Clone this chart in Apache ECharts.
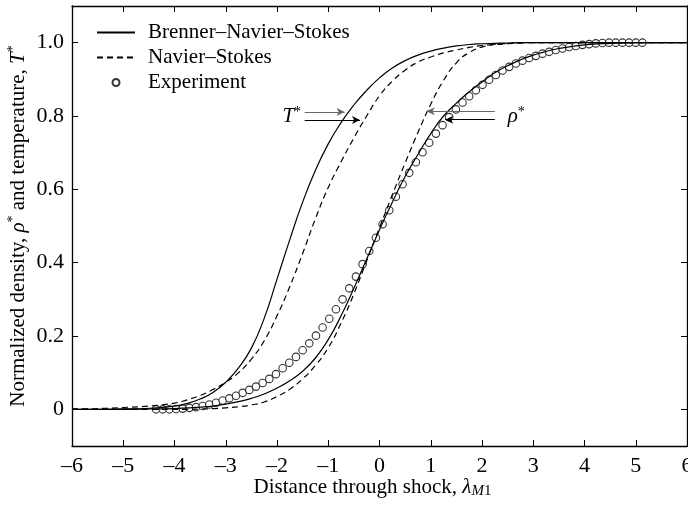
<!DOCTYPE html>
<html>
<head>
<meta charset="utf-8">
<script src="https://cdn.jsdelivr.net/npm/echarts@6/dist/echarts.min.js"></script>
<style>
  html, body { margin: 0; padding: 0; background: #fff; }
  #chart { width: 688px; height: 506px; }
</style>
</head>
<body>
<div id="chart"></div>
<script>
// Shock-structure profiles: normalized density and temperature across the shock.
const FONT = 'Liberation Serif';

// Abscissa of the computed profiles (distance through shock, in mean free paths)
const profileX = [-6, -5.5, -5, -4.5, -4, -3.75, -3.5, -3.25, -3, -2.75, -2.5, -2.25, -2, -1.75, -1.5, -1.25,
  -1, -0.75, -0.5, -0.25, 0, 0.25, 0.5, 0.75, 1, 1.25, 1.5, 1.75, 2, 2.25, 2.5, 2.75, 3, 3.25, 3.5, 4, 4.5, 5, 5.5, 6];

// Brenner–Navier–Stokes temperature T*
const bnsTemperature = [0, 0, 0.001, 0.003, 0.009, 0.016, 0.028, 0.046, 0.074, 0.113, 0.167, 0.248, 0.355, 0.463, 0.565, 0.652,
  0.724, 0.782, 0.83, 0.87, 0.904, 0.931, 0.951, 0.966, 0.977, 0.985, 0.991, 0.995, 0.997, 0.998, 0.999, 1, 1, 1, 1, 1, 1, 1, 1, 1];
// Brenner–Navier–Stokes density rho*
const bnsDensity = [0, 0, 0, 0.001, 0.002, 0.004, 0.006, 0.009, 0.014, 0.021, 0.03, 0.042, 0.058, 0.078, 0.104, 0.14,
  0.19, 0.255, 0.33, 0.41, 0.49, 0.565, 0.635, 0.695, 0.752, 0.8, 0.835, 0.866, 0.893, 0.918, 0.937, 0.953, 0.966, 0.976, 0.984, 0.994, 0.998, 1, 1, 1];
// Navier–Stokes temperature T*
const nsTemperature = [0.001, 0.002, 0.005, 0.009, 0.017, 0.026, 0.038, 0.054, 0.074, 0.1, 0.137, 0.187, 0.255, 0.335, 0.425, 0.52,
  0.605, 0.675, 0.74, 0.8, 0.855, 0.895, 0.925, 0.947, 0.961, 0.972, 0.98, 0.987, 0.992, 0.995, 0.997, 0.999, 1, 1, 1, 1, 1, 1, 1, 1];
// Navier–Stokes density rho*
const nsDensity = [0, 0, 0, 0, 0, 0, 0.001, 0.002, 0.004, 0.007, 0.012, 0.02, 0.035, 0.055, 0.083, 0.12,
  0.168, 0.235, 0.315, 0.405, 0.495, 0.585, 0.672, 0.755, 0.832, 0.897, 0.945, 0.973, 0.988, 0.995, 0.998, 1, 1, 1, 1, 1, 1, 1, 1, 1];

// Measured density profile
const expX = [-4.36, -4.23, -4.10, -3.97, -3.84, -3.71, -3.58, -3.45, -3.32, -3.19, -3.06, -2.93, -2.80, -2.67, -2.54, -2.41,
  -2.28, -2.15, -2.02, -1.89, -1.76, -1.63, -1.50, -1.37, -1.24, -1.11, -0.98, -0.85, -0.72, -0.59, -0.46, -0.33,
  -0.20, -0.07, 0.06, 0.19, 0.32, 0.45, 0.58, 0.71, 0.84, 0.97, 1.10, 1.23, 1.36, 1.49, 1.62, 1.75,
  1.88, 2.01, 2.14, 2.27, 2.40, 2.53, 2.66, 2.79, 2.92, 3.05, 3.18, 3.31, 3.44, 3.57, 3.70, 3.83,
  3.96, 4.09, 4.22, 4.35, 4.48, 4.61, 4.74, 4.87, 5.00, 5.13];
const expDensity = [0, 0, 0, 0.001, 0.002, 0.004, 0.006, 0.009, 0.013, 0.018, 0.024, 0.030, 0.037, 0.045, 0.053, 0.062,
  0.072, 0.083, 0.096, 0.112, 0.127, 0.143, 0.161, 0.180, 0.201, 0.223, 0.247, 0.273, 0.300, 0.330, 0.362, 0.396,
  0.432, 0.468, 0.505, 0.543, 0.580, 0.614, 0.645, 0.674, 0.701, 0.727, 0.752, 0.775, 0.797, 0.818, 0.837, 0.854,
  0.870, 0.885, 0.899, 0.912, 0.924, 0.934, 0.943, 0.951, 0.958, 0.964, 0.970, 0.975, 0.980, 0.984, 0.988, 0.991,
  0.994, 0.996, 0.998, 0.999, 1, 1, 1, 1, 1, 1];

// Axis ticks
const xTicks = [-6, -5, -4, -3, -2, -1, 0, 1, 2, 3, 4, 5, 6];
const yTicks = [0, 0.2, 0.4, 0.6, 0.8, 1.0];

// Arrow annotations: [x start, x tip, y]
const tArrows = [[-1.46, -0.68, 0.811], [-1.46, -0.38, 0.789]];
const rhoArrows = [[2.25, 0.92, 0.813], [2.25, 1.28, 0.79]];
const tLabelAt = [-1.53, 0.8];
const rhoLabelAt = [2.5, 0.8];

const pair = (xs, ys) => xs.map((x, i) => [x, ys[i]]);

const BNS = 'Brenner–Navier–Stokes';
const NS = 'Navier–Stokes';
const EXP = 'Experiment';

const textBase = { fontFamily: FONT, fontSize: 21, color: '#000' };
const tickText = { fontFamily: FONT, fontSize: 22, color: '#000' };
const supRich = {
  i: { fontFamily: FONT, fontSize: 21, fontStyle: 'italic', color: '#000' },
  sup: { fontFamily: FONT, fontSize: 14, color: '#000', verticalAlign: 'top', lineHeight: 12 },
  subi: { fontFamily: FONT, fontSize: 15, fontStyle: 'italic', color: '#000', verticalAlign: 'bottom', lineHeight: 12 },
  sub: { fontFamily: FONT, fontSize: 15, color: '#000', verticalAlign: 'bottom', lineHeight: 12 }
};

const arrowLine = (a, color) => [
  { coord: [a[0], a[2]], lineStyle: { color: color, width: 1, type: 'solid' } },
  { coord: [a[1], a[2]] }
];

const axisLineStyle = { show: true, onZero: false, lineStyle: { color: '#000', width: 1.3 } };
const tickStyle = { show: true, inside: true, length: 6, lineStyle: { color: '#000', width: 1 } };

const curve = (name, ys, dashed) => ({
  name: name, type: 'line', data: pair(profileX, ys),
  smooth: 0.5, symbol: 'none', silent: true,
  lineStyle: { color: '#000', width: 1.2, type: dashed ? [6, 4] : 'solid' },
  itemStyle: { color: '#000' }
});

const bnsT = curve(BNS, bnsTemperature, false);
bnsT.markLine = {
  silent: true, symbol: ['none', 'arrow'], symbolSize: [6, 8], label: { show: false },
  lineStyle: { color: '#000', width: 1, type: 'solid' },
  data: [arrowLine(tArrows[0], '#666'), arrowLine(tArrows[1], '#000'),
         arrowLine(rhoArrows[0], '#666'), arrowLine(rhoArrows[1], '#000')]
};
bnsT.markPoint = {
  silent: true, symbol: 'circle', symbolSize: 0,
  data: [
    { coord: tLabelAt, label: { show: true, position: 'left', distance: 0, formatter: '{i|T}{sup|*}', rich: supRich, fontFamily: FONT, fontSize: 21, color: '#000' } },
    { coord: rhoLabelAt, label: { show: true, position: 'right', distance: 0, formatter: '{i|ρ}{sup|*}', rich: supRich, fontFamily: FONT, fontSize: 21, color: '#000' } }
  ]
};

// legend entries for the curves show the line only
const lineOnlyIcon = { color: 'rgba(0,0,0,0)', borderColor: 'rgba(0,0,0,0)', borderWidth: 0 };

const option = {
  animation: false,
  backgroundColor: '#fff',
  grid: { left: 72, right: 1, top: 6, bottom: 60, containLabel: false, outerBoundsMode: 'none' },
  legend: {
    orient: 'vertical',
    left: 96,
    top: 20,
    padding: 0,
    itemGap: 0,
    itemWidth: 38,
    itemHeight: 7,
    selectedMode: false,
    textStyle: Object.assign({}, textBase, { lineHeight: 25, padding: [0, 0, 0, 8] }),
    data: [
      { name: BNS, itemStyle: lineOnlyIcon },
      { name: NS, itemStyle: lineOnlyIcon },
      { name: EXP, icon: 'circle' }
    ]
  },
  xAxis: [
    {
      type: 'value', min: -6, max: 6, interval: 1, position: 'bottom',
      axisLine: axisLineStyle, axisTick: tickStyle, splitLine: { show: false },
      axisLabel: Object.assign({}, tickText, {
        margin: 9,
        formatter: v => (v < 0 ? '–' + Math.abs(v) : String(v))
      }),
      name: 'Distance through shock, {i|λ}{subi|M}{sub|1}',
      nameLocation: 'middle',
      nameGap: 29,
      nameMoveOverlap: false,
      nameTextStyle: Object.assign({}, textBase, { lineHeight: 24, rich: supRich, padding: [0, 14, 0, 0] })
    },
    {
      type: 'value', min: -6, max: 6, interval: 1, position: 'top',
      axisLine: axisLineStyle, axisTick: tickStyle, splitLine: { show: false },
      axisLabel: { show: false }
    }
  ],
  yAxis: [
    {
      type: 'value', min: -0.1, max: 1.1, interval: 0.1, position: 'left',
      axisLine: axisLineStyle,
      axisTick: Object.assign({}, tickStyle, { customValues: yTicks }),
      splitLine: { show: false },
      axisLabel: Object.assign({}, tickText, {
        margin: 8,
        customValues: yTicks,
        formatter: v => (Math.abs(v) < 1e-9 ? '0' : v.toFixed(1))
      }),
      name: 'Normalized density, {i|ρ}{sup|*} and temperature, {i|T}{sup|*}',
      nameLocation: 'middle',
      nameGap: 42,
      nameMoveOverlap: false,
      nameTextStyle: Object.assign({}, textBase, { lineHeight: 24, rich: supRich })
    },
    {
      type: 'value', min: -0.1, max: 1.1, interval: 0.1, position: 'right',
      axisLine: axisLineStyle,
      axisTick: Object.assign({}, tickStyle, { customValues: yTicks }),
      splitLine: { show: false },
      axisLabel: { show: false }
    }
  ],
  series: [
    bnsT,
    curve(BNS, bnsDensity, false),
    curve(NS, nsTemperature, true),
    curve(NS, nsDensity, true),
    {
      name: EXP, type: 'scatter', data: pair(expX, expDensity),
      symbol: 'circle', symbolSize: 7.5, symbolKeepAspect: true, silent: true,
      itemStyle: { color: '#fff', borderColor: '#000', borderWidth: 1.1 }
    }
  ]
};

const chart = echarts.init(document.getElementById('chart'), null, { renderer: 'canvas' });
chart.setOption(option);
</script>
</body>
</html>
